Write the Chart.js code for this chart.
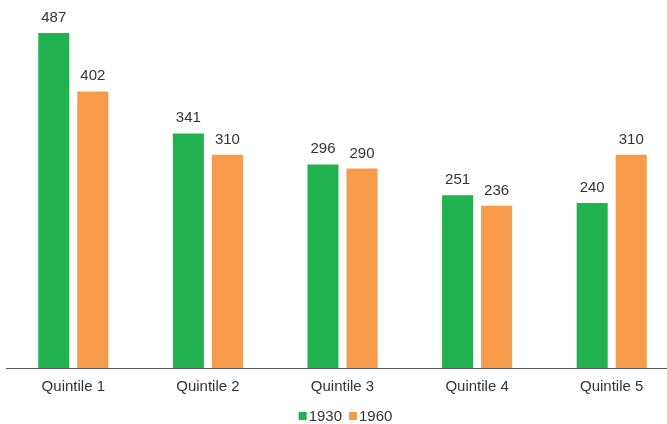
<!DOCTYPE html>
<html>
<head>
<meta charset="utf-8">
<script src="https://cdn.jsdelivr.net/npm/chart.js@4"></script>
<style>
    html, body { margin: 0; padding: 0; background: #fff; overflow: hidden; }
    #wrap { position: relative; width: 679px; height: 424px; }
</style>
</head>
<body>
<div id="wrap"><canvas id="quintileChart"></canvas></div>
<script>
const categories = ['Quintile 1', 'Quintile 2', 'Quintile 3', 'Quintile 4', 'Quintile 5'];
const values1930 = [487, 341, 296, 251, 240];
const values1960 = [402, 310, 290, 236, 310];

const FONT = "Helvetica, Arial, 'Liberation Sans', sans-serif";
const TEXT_COLOR = '#333';

// ==================== VALUE LABELS ABOVE BARS ====================
const valueLabels = {
    id: 'valueLabels',
    afterDatasetsDraw(chart) {
        const ctx = chart.ctx;
        ctx.save();
        ctx.font = '15px ' + FONT;
        ctx.fillStyle = TEXT_COLOR;
        ctx.textAlign = 'center';
        ctx.textBaseline = 'alphabetic';
        chart.data.datasets.forEach((ds, i) => {
            chart.getDatasetMeta(i).data.forEach((bar, j) => {
                ctx.fillText(ds.data[j], bar.x, bar.y - 11);
            });
        });
        ctx.restore();
    }
};

// ==================== COMPACT BOTTOM LEGEND ====================
// small square swatch hugging its label, like the print version
const compactLegend = {
    id: 'compactLegend',
    afterDraw(chart) {
        const ctx = chart.ctx;
        const box = 8, boxGap = 2, itemGap = 7;
        ctx.save();
        ctx.font = '15px ' + FONT;
        ctx.textBaseline = 'alphabetic';
        ctx.textAlign = 'left';

        const items = chart.data.datasets.map(ds => ({
            text: ds.label,
            color: ds.backgroundColor,
            w: ctx.measureText(ds.label).width
        }));
        const total = items.reduce((s, it) => s + box + boxGap + it.w, 0) + itemGap * (items.length - 1);
        const center = (chart.chartArea.left + chart.chartArea.right) / 2 + 3;
        let x = center - total / 2;
        const baseline = 421;

        items.forEach(it => {
            ctx.fillStyle = it.color;
            ctx.fillRect(x, baseline - 9, box, box);
            x += box + boxGap;
            ctx.fillStyle = TEXT_COLOR;
            ctx.fillText(it.text, x, baseline);
            x += it.w + itemGap;
        });
        ctx.restore();
    }
};

new Chart(document.getElementById('quintileChart'), {
    type: 'bar',
    data: {
        labels: categories,
        datasets: [
            {
                label: '1930',
                data: values1930,
                backgroundColor: '#21b24f',
                barPercentage: 0.795,
                categoryPercentage: 0.58
            },
            {
                label: '1960',
                data: values1960,
                backgroundColor: '#f79a4a',
                barPercentage: 0.795,
                categoryPercentage: 0.58
            }
        ]
    },
    options: {
        responsive: true,
        maintainAspectRatio: false,
        animation: false,
        layout: { padding: { left: 6, right: 0, top: 0, bottom: 0 } },
        plugins: {
            tooltip: { enabled: false },
            legend: { display: false }
        },
        scales: {
            x: {
                grid: { display: false },
                border: { display: true, color: '#555', width: 1 },
                ticks: { color: TEXT_COLOR, padding: 2, font: { size: 15, family: FONT } },
                // leave room under the axis for the legend row
                afterFit: function(scale) { scale.height = 56; }
            },
            y: {
                display: false,
                min: 0,
                max: 535
            }
        }
    },
    plugins: [valueLabels, compactLegend]
});
</script>
</body>
</html>
